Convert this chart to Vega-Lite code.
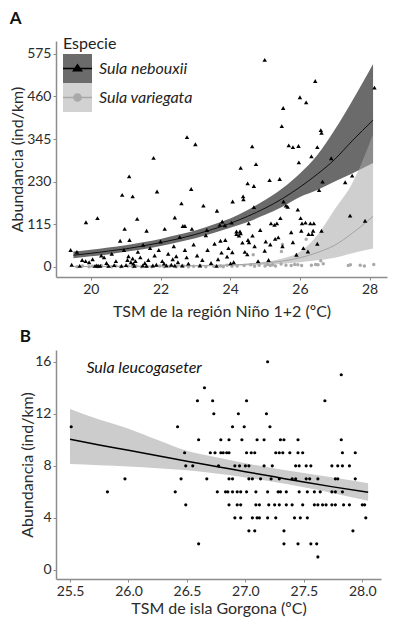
{
  "$schema": "https://vega.github.io/schema/vega-lite/v6.json",
  "background": "white",
  "padding": {"left": 9, "top": 10, "right": 4, "bottom": 2},
  "spacing": 9,
  "columns": 1,
  "align": "none",
  "resolve": {"scale": {"fill": "independent", "color": "independent", "shape": "independent", "stroke": "independent"}, "legend": {"fill": "independent", "color": "independent", "shape": "independent", "stroke": "independent"}},
  "config": {
    "font": "Lato",
    "view": {"stroke": null},
    "axis": {"grid": false, "domainColor": "#8c8c8c", "domainWidth": 1.5, "tickColor": "#8c8c8c", "tickSize": 3, "labelFontSize": 14, "labelColor": "#2b2b2b", "labelPadding": 2, "titleFontSize": 16, "titleFontWeight": "normal", "titleColor": "#2b2b2b"},
    "title": {"fontSize": 17, "fontWeight": "bold", "anchor": "start", "frame": "bounds", "color": "#111111"},
    "legend": {"titleFontSize": 16, "titleFontWeight": "normal", "titleColor": "#222222", "titlePadding": 2, "labelFontSize": 16, "labelFontStyle": "italic", "labelColor": "#222222", "labelOffset": 7, "symbolSize": 841, "symbolStrokeWidth": 0, "rowPadding": 0, "padding": 0, "symbolOpacity": 1}
  },
  "datasets": {
    "fitA": [
      {"sp": "Sula nebouxii", "t": 19.5, "v": 31, "lo": 23, "hi": 41},
      {"sp": "Sula nebouxii", "t": 20.0, "v": 36, "lo": 28, "hi": 46},
      {"sp": "Sula nebouxii", "t": 20.5, "v": 42, "lo": 33, "hi": 52},
      {"sp": "Sula nebouxii", "t": 21.0, "v": 48, "lo": 40, "hi": 58},
      {"sp": "Sula nebouxii", "t": 21.5, "v": 56, "lo": 47, "hi": 66},
      {"sp": "Sula nebouxii", "t": 22.0, "v": 65, "lo": 56, "hi": 75},
      {"sp": "Sula nebouxii", "t": 22.5, "v": 75, "lo": 66, "hi": 86},
      {"sp": "Sula nebouxii", "t": 23.0, "v": 87, "lo": 77, "hi": 98},
      {"sp": "Sula nebouxii", "t": 23.5, "v": 101, "lo": 90, "hi": 113},
      {"sp": "Sula nebouxii", "t": 24.0, "v": 117, "lo": 105, "hi": 130},
      {"sp": "Sula nebouxii", "t": 24.5, "v": 136, "lo": 121, "hi": 153},
      {"sp": "Sula nebouxii", "t": 25.0, "v": 158, "lo": 140, "hi": 180},
      {"sp": "Sula nebouxii", "t": 25.5, "v": 184, "lo": 162, "hi": 212},
      {"sp": "Sula nebouxii", "t": 26.0, "v": 215, "lo": 188, "hi": 252},
      {"sp": "Sula nebouxii", "t": 26.5, "v": 250, "lo": 207, "hi": 302},
      {"sp": "Sula nebouxii", "t": 27.0, "v": 290, "lo": 230, "hi": 370},
      {"sp": "Sula nebouxii", "t": 27.5, "v": 340, "lo": 252, "hi": 448},
      {"sp": "Sula nebouxii", "t": 28.1, "v": 396, "lo": 280, "hi": 548},
      {"sp": "Sula variegata", "t": 19.5, "v": 0.3, "lo": 0.05, "hi": 1.5},
      {"sp": "Sula variegata", "t": 20.0, "v": 0.4, "lo": 0.1, "hi": 1.8},
      {"sp": "Sula variegata", "t": 21.0, "v": 0.7, "lo": 0.2, "hi": 2.3},
      {"sp": "Sula variegata", "t": 22.0, "v": 1.3, "lo": 0.4, "hi": 3},
      {"sp": "Sula variegata", "t": 23.0, "v": 2.3, "lo": 0.9, "hi": 4.2},
      {"sp": "Sula variegata", "t": 24.0, "v": 4.3, "lo": 2, "hi": 5.5},
      {"sp": "Sula variegata", "t": 24.5, "v": 6.5, "lo": 3, "hi": 8.5},
      {"sp": "Sula variegata", "t": 25.0, "v": 10, "lo": 5, "hi": 13},
      {"sp": "Sula variegata", "t": 25.5, "v": 15, "lo": 8, "hi": 22},
      {"sp": "Sula variegata", "t": 26.0, "v": 24, "lo": 12, "hi": 40},
      {"sp": "Sula variegata", "t": 26.5, "v": 38, "lo": 17, "hi": 85},
      {"sp": "Sula variegata", "t": 27.0, "v": 58, "lo": 24, "hi": 155},
      {"sp": "Sula variegata", "t": 27.5, "v": 90, "lo": 36, "hi": 225},
      {"sp": "Sula variegata", "t": 28.1, "v": 136, "lo": 49, "hi": 358}
    ],
    "neb": [
      {"t": 24.99, "v": 559}, {"t": 26.44, "v": 502}, {"t": 26.0, "v": 458}, {"t": 26.18, "v": 444}, {"t": 25.52, "v": 429}, {"t": 28.14, "v": 484},
      {"t": 25.48, "v": 380}, {"t": 26.6, "v": 369}, {"t": 26.62, "v": 362}, {"t": 22.76, "v": 350}, {"t": 23.0, "v": 331}, {"t": 24.63, "v": 325},
      {"t": 25.68, "v": 328}, {"t": 25.8, "v": 323}, {"t": 25.96, "v": 326}, {"t": 26.5, "v": 323}, {"t": 21.8, "v": 294}, {"t": 26.9, "v": 293},
      {"t": 26.33, "v": 298}, {"t": 25.97, "v": 282}, {"t": 24.3, "v": 267}, {"t": 24.74, "v": 277}, {"t": 21.1, "v": 244}, {"t": 27.5, "v": 246},
      {"t": 27.3, "v": 228}, {"t": 24.5, "v": 225}, {"t": 24.68, "v": 218}, {"t": 25.13, "v": 234}, {"t": 25.42, "v": 237}, {"t": 26.55, "v": 207},
      {"t": 26.65, "v": 230}, {"t": 20.9, "v": 194}, {"t": 21.2, "v": 190}, {"t": 21.9, "v": 203}, {"t": 22.88, "v": 210}, {"t": 22.6, "v": 171},
      {"t": 23.23, "v": 165}, {"t": 24.07, "v": 176}, {"t": 24.37, "v": 190}, {"t": 24.38, "v": 182}, {"t": 25.53, "v": 176},
      {"t": 23.62, "v": 151}, {"t": 25.6, "v": 165}, {"t": 25.65, "v": 162}, {"t": 24.68, "v": 161}, {"t": 25.94, "v": 154}, {"t": 27.44, "v": 138},
      {"t": 27.87, "v": 124}, {"t": 19.86, "v": 120}, {"t": 20.19, "v": 131}, {"t": 21.33, "v": 129}, {"t": 22.41, "v": 133}, {"t": 22.64, "v": 110},
      {"t": 22.7, "v": 110}, {"t": 22.9, "v": 102}, {"t": 22.12, "v": 102}, {"t": 21.6, "v": 97}, {"t": 20.97, "v": 102}, {"t": 23.77, "v": 122},
      {"t": 23.85, "v": 112}, {"t": 24.04, "v": 119}, {"t": 24.18, "v": 95}, {"t": 24.28, "v": 95}, {"t": 24.53, "v": 117}, {"t": 25.17, "v": 117},
      {"t": 25.27, "v": 113}, {"t": 25.34, "v": 117}, {"t": 25.44, "v": 131}, {"t": 25.75, "v": 93}, {"t": 26.06, "v": 117}, {"t": 26.16, "v": 119},
      {"t": 26.04, "v": 97}, {"t": 26.38, "v": 97}, {"t": 26.62, "v": 97}, {"t": 26.3, "v": 117}, {"t": 26.4, "v": 117}, {"t": 23.33, "v": 99},
      {"t": 23.7, "v": 113}, {"t": 24.86, "v": 99}, {"t": 26.02, "v": 131},
      {"t": 19.42, "v": 45}, {"t": 19.45, "v": 5}, {"t": 19.6, "v": 40}, {"t": 19.68, "v": 2}, {"t": 19.75, "v": 18}, {"t": 19.85, "v": 15},
      {"t": 19.95, "v": 12}, {"t": 20.05, "v": 20}, {"t": 20.12, "v": 2}, {"t": 20.17, "v": 3}, {"t": 20.22, "v": 2}, {"t": 20.27, "v": 2},
      {"t": 20.3, "v": 30}, {"t": 20.38, "v": 25}, {"t": 20.45, "v": 10}, {"t": 20.51, "v": 2}, {"t": 20.6, "v": 35}, {"t": 20.67, "v": 4},
      {"t": 20.72, "v": 15}, {"t": 20.84, "v": 70}, {"t": 20.88, "v": 2}, {"t": 20.95, "v": 45}, {"t": 21.01, "v": 4}, {"t": 21.05, "v": 18},
      {"t": 21.08, "v": 28}, {"t": 21.11, "v": 72}, {"t": 21.15, "v": 12}, {"t": 21.2, "v": 22}, {"t": 21.22, "v": 8}, {"t": 21.25, "v": 2},
      {"t": 21.28, "v": 15}, {"t": 21.35, "v": 40}, {"t": 21.42, "v": 25}, {"t": 21.49, "v": 3}, {"t": 21.5, "v": 59}, {"t": 21.55, "v": 10},
      {"t": 21.6, "v": 2}, {"t": 21.65, "v": 18}, {"t": 21.7, "v": 50}, {"t": 21.78, "v": 3}, {"t": 21.83, "v": 30}, {"t": 21.88, "v": 5},
      {"t": 21.95, "v": 45}, {"t": 22.0, "v": 68}, {"t": 22.05, "v": 15}, {"t": 22.1, "v": 8}, {"t": 22.17, "v": 3}, {"t": 22.22, "v": 35},
      {"t": 22.31, "v": 5}, {"t": 22.35, "v": 20}, {"t": 22.38, "v": 55}, {"t": 22.41, "v": 3}, {"t": 22.45, "v": 28}, {"t": 22.5, "v": 12},
      {"t": 22.55, "v": 80}, {"t": 22.62, "v": 3}, {"t": 22.7, "v": 45}, {"t": 22.75, "v": 25}, {"t": 22.8, "v": 8}, {"t": 22.95, "v": 60},
      {"t": 23.05, "v": 30}, {"t": 23.13, "v": 3}, {"t": 23.2, "v": 18}, {"t": 23.3, "v": 85}, {"t": 23.35, "v": 45}, {"t": 23.45, "v": 10},
      {"t": 23.55, "v": 62}, {"t": 23.61, "v": 2}, {"t": 23.65, "v": 20}, {"t": 23.72, "v": 70}, {"t": 23.75, "v": 38}, {"t": 23.86, "v": 72},
      {"t": 23.91, "v": 27}, {"t": 23.95, "v": 50}, {"t": 24.01, "v": 9}, {"t": 24.06, "v": 39}, {"t": 24.1, "v": 12}, {"t": 24.18, "v": 88},
      {"t": 24.25, "v": 84}, {"t": 24.3, "v": 90}, {"t": 24.35, "v": 65}, {"t": 24.42, "v": 40}, {"t": 24.49, "v": 33}, {"t": 24.51, "v": 72},
      {"t": 24.54, "v": 66}, {"t": 24.64, "v": 84}, {"t": 24.7, "v": 55}, {"t": 24.8, "v": 15}, {"t": 24.99, "v": 43}, {"t": 25.02, "v": 68},
      {"t": 25.1, "v": 18}, {"t": 25.15, "v": 60}, {"t": 25.29, "v": 75}, {"t": 25.38, "v": 79}, {"t": 25.5, "v": 55}, {"t": 25.8, "v": 66},
      {"t": 25.9, "v": 32}, {"t": 26.1, "v": 50}, {"t": 26.23, "v": 41}, {"t": 26.35, "v": 88}, {"t": 26.5, "v": 62}, {"t": 26.25, "v": 88}
    ],
    "var": [
      {"t": 19.6, "v": 0}, {"t": 19.76, "v": 2}, {"t": 19.95, "v": 0}, {"t": 20.05, "v": 1}, {"t": 20.19, "v": 0}, {"t": 20.3, "v": 3},
      {"t": 20.48, "v": 1}, {"t": 20.6, "v": 0}, {"t": 20.72, "v": 2}, {"t": 20.85, "v": 0}, {"t": 21.06, "v": 1}, {"t": 21.2, "v": 0},
      {"t": 21.3, "v": 2}, {"t": 21.45, "v": 0}, {"t": 21.59, "v": 1}, {"t": 21.75, "v": 0}, {"t": 21.98, "v": 2}, {"t": 22.1, "v": 0},
      {"t": 22.27, "v": 1}, {"t": 22.45, "v": 0}, {"t": 22.66, "v": 2}, {"t": 22.8, "v": 0}, {"t": 22.95, "v": 1}, {"t": 23.14, "v": 3},
      {"t": 23.3, "v": 0}, {"t": 23.53, "v": 1}, {"t": 23.72, "v": 2}, {"t": 23.8, "v": 0}, {"t": 23.91, "v": 4}, {"t": 24.05, "v": 1},
      {"t": 24.2, "v": 2}, {"t": 24.4, "v": 3}, {"t": 24.59, "v": 5}, {"t": 24.66, "v": 32}, {"t": 24.7, "v": 1}, {"t": 24.83, "v": 4},
      {"t": 25.0, "v": 2}, {"t": 25.07, "v": 6}, {"t": 25.15, "v": 3}, {"t": 25.22, "v": 5}, {"t": 25.3, "v": 2}, {"t": 25.46, "v": 7},
      {"t": 25.47, "v": 41}, {"t": 25.5, "v": 60}, {"t": 25.6, "v": 4}, {"t": 25.75, "v": 3}, {"t": 25.85, "v": 6}, {"t": 25.94, "v": 5},
      {"t": 26.05, "v": 3}, {"t": 26.18, "v": 74}, {"t": 26.33, "v": 4}, {"t": 26.45, "v": 6}, {"t": 26.52, "v": 5}, {"t": 26.6, "v": 16},
      {"t": 26.67, "v": 8}, {"t": 27.39, "v": 3}, {"t": 27.45, "v": 5}, {"t": 27.73, "v": 4}, {"t": 27.85, "v": 2}, {"t": 28.12, "v": 6}
    ],
    "fitB": [
      {"t": 25.5, "v": 10.04, "lo": 8.14, "hi": 12.37},
      {"t": 25.75, "v": 9.6, "lo": 8.05, "hi": 11.55},
      {"t": 26.0, "v": 9.2, "lo": 7.95, "hi": 10.85},
      {"t": 26.25, "v": 8.78, "lo": 7.82, "hi": 9.98},
      {"t": 26.5, "v": 8.35, "lo": 7.65, "hi": 9.15},
      {"t": 26.75, "v": 7.95, "lo": 7.4, "hi": 8.65},
      {"t": 27.0, "v": 7.55, "lo": 7.1, "hi": 8.2},
      {"t": 27.25, "v": 7.15, "lo": 6.75, "hi": 7.8},
      {"t": 27.5, "v": 6.75, "lo": 6.35, "hi": 7.45},
      {"t": 27.75, "v": 6.38, "lo": 5.9, "hi": 7.1},
      {"t": 28.05, "v": 5.97, "lo": 5.32, "hi": 6.66}
    ],
    "ptsB": [
      {"t": 27.19, "v": 16}, {"t": 27.82, "v": 15}, {"t": 26.65, "v": 14},
      {"t": 26.59, "v": 13}, {"t": 26.72, "v": 13}, {"t": 27.01, "v": 13}, {"t": 27.68, "v": 13},
      {"t": 26.73, "v": 12}, {"t": 26.94, "v": 12}, {"t": 27.18, "v": 12},
      {"t": 25.51, "v": 11}, {"t": 26.42, "v": 11}, {"t": 26.89, "v": 11}, {"t": 26.99, "v": 11}, {"t": 27.21, "v": 11},
      {"t": 26.6, "v": 10}, {"t": 26.79, "v": 10}, {"t": 26.86, "v": 10}, {"t": 26.97, "v": 10}, {"t": 27.1, "v": 10}, {"t": 27.16, "v": 10},
      {"t": 27.3, "v": 10}, {"t": 27.33, "v": 10}, {"t": 27.45, "v": 10}, {"t": 27.82, "v": 10},
      {"t": 26.48, "v": 9}, {"t": 26.7, "v": 9}, {"t": 26.74, "v": 9}, {"t": 26.79, "v": 9}, {"t": 26.81, "v": 9}, {"t": 26.84, "v": 9},
      {"t": 26.86, "v": 9}, {"t": 27.01, "v": 9}, {"t": 27.05, "v": 9}, {"t": 27.08, "v": 9}, {"t": 27.26, "v": 9}, {"t": 27.29, "v": 9},
      {"t": 27.32, "v": 9}, {"t": 27.38, "v": 9}, {"t": 27.45, "v": 9}, {"t": 27.49, "v": 9}, {"t": 27.83, "v": 9}, {"t": 27.94, "v": 9},
      {"t": 26.49, "v": 8}, {"t": 26.55, "v": 8}, {"t": 26.77, "v": 8}, {"t": 26.91, "v": 8}, {"t": 26.95, "v": 8}, {"t": 27.0, "v": 8},
      {"t": 27.03, "v": 8}, {"t": 27.16, "v": 8}, {"t": 27.23, "v": 8}, {"t": 27.43, "v": 8}, {"t": 27.46, "v": 8}, {"t": 27.52, "v": 8},
      {"t": 27.56, "v": 8}, {"t": 27.74, "v": 8}, {"t": 27.79, "v": 8}, {"t": 27.83, "v": 8}, {"t": 27.89, "v": 8},
      {"t": 25.97, "v": 7}, {"t": 26.45, "v": 7}, {"t": 26.67, "v": 7}, {"t": 26.86, "v": 7}, {"t": 26.89, "v": 7}, {"t": 27.03, "v": 7},
      {"t": 27.06, "v": 7}, {"t": 27.13, "v": 7}, {"t": 27.22, "v": 7}, {"t": 27.29, "v": 7}, {"t": 27.4, "v": 7}, {"t": 27.43, "v": 7},
      {"t": 27.52, "v": 7}, {"t": 27.55, "v": 7}, {"t": 27.62, "v": 7}, {"t": 27.77, "v": 7}, {"t": 27.79, "v": 7}, {"t": 27.94, "v": 7},
      {"t": 25.82, "v": 6}, {"t": 26.4, "v": 6}, {"t": 26.76, "v": 6}, {"t": 26.83, "v": 6}, {"t": 26.85, "v": 6}, {"t": 26.89, "v": 6},
      {"t": 26.93, "v": 6}, {"t": 26.96, "v": 6}, {"t": 27.01, "v": 6}, {"t": 27.09, "v": 6}, {"t": 27.19, "v": 6}, {"t": 27.28, "v": 6},
      {"t": 27.3, "v": 6}, {"t": 27.35, "v": 6}, {"t": 27.46, "v": 6}, {"t": 27.53, "v": 6}, {"t": 27.59, "v": 6}, {"t": 27.64, "v": 6},
      {"t": 27.74, "v": 6}, {"t": 27.77, "v": 6}, {"t": 27.83, "v": 6},
      {"t": 26.49, "v": 5}, {"t": 26.86, "v": 5}, {"t": 26.93, "v": 5}, {"t": 26.96, "v": 5}, {"t": 27.09, "v": 5}, {"t": 27.12, "v": 5},
      {"t": 27.2, "v": 5}, {"t": 27.25, "v": 5}, {"t": 27.29, "v": 5}, {"t": 27.35, "v": 5}, {"t": 27.4, "v": 5}, {"t": 27.49, "v": 5},
      {"t": 27.59, "v": 5}, {"t": 27.62, "v": 5}, {"t": 27.66, "v": 5}, {"t": 27.69, "v": 5}, {"t": 27.74, "v": 5}, {"t": 27.77, "v": 5},
      {"t": 27.84, "v": 5}, {"t": 27.89, "v": 5}, {"t": 28.0, "v": 5}, {"t": 28.02, "v": 5},
      {"t": 26.91, "v": 4}, {"t": 26.96, "v": 4}, {"t": 27.06, "v": 4}, {"t": 27.1, "v": 4}, {"t": 27.12, "v": 4}, {"t": 27.19, "v": 4},
      {"t": 27.26, "v": 4}, {"t": 27.42, "v": 4}, {"t": 27.47, "v": 4}, {"t": 27.53, "v": 4}, {"t": 28.03, "v": 4},
      {"t": 27.03, "v": 3}, {"t": 27.08, "v": 3}, {"t": 27.33, "v": 3}, {"t": 27.92, "v": 3},
      {"t": 26.6, "v": 2}, {"t": 27.33, "v": 2}, {"t": 27.45, "v": 2}, {"t": 27.56, "v": 2}, {"t": 27.61, "v": 2},
      {"t": 27.62, "v": 1}
    ]
  },
  "concat": [
    {
      "title": {"text": "A", "offset": 8},
      "width": 331,
      "height": 236,
      "resolve": {"scale": {"fill": "independent", "color": "independent", "shape": "independent", "stroke": "independent"}},
      "layer": [
        {
          "data": {"name": "fitA"},
          "transform": [{"filter": "datum.sp == 'Sula nebouxii'"}],
          "mark": {"type": "area", "color": "#6b6b6b", "interpolate": "monotone"},
          "encoding": {
            "x": {"field": "t", "type": "quantitative", "scale": {"domain": [19, 28.5], "nice": false, "zero": false}, "axis": {"values": [20, 22, 24, 26, 28], "title": "TSM de la región Niño 1+2 (ºC)", "titlePadding": 7}},
            "y": {"field": "lo", "type": "quantitative", "scale": {"domain": [-28, 610], "nice": false, "zero": false}, "axis": {"values": [0, 115, 230, 345, 460, 575], "title": "Abundancia (ind/km)", "titlePadding": 1}},
            "y2": {"field": "hi"}
          }
        },
        {
          "data": {"name": "fitA"},
          "transform": [{"filter": "datum.sp == 'Sula variegata'"}],
          "mark": {"type": "area", "color": "#a7a7a7", "opacity": 0.55, "interpolate": "monotone"},
          "encoding": {
            "x": {"field": "t", "type": "quantitative", "scale": {"domain": [19, 28.5], "nice": false, "zero": false}, "axis": {"values": [20, 22, 24, 26, 28], "title": "TSM de la región Niño 1+2 (ºC)", "titlePadding": 7}},
            "y": {"field": "lo", "type": "quantitative", "scale": {"domain": [-28, 610], "nice": false, "zero": false}, "axis": {"values": [0, 115, 230, 345, 460, 575], "title": "Abundancia (ind/km)", "titlePadding": 1}},
            "y2": {"field": "hi"}
          }
        },
        {
          "data": {"name": "fitA"},
          "mark": {"type": "line", "strokeWidth": 1, "interpolate": "monotone"},
          "encoding": {
            "x": {"field": "t", "type": "quantitative", "scale": {"domain": [19, 28.5], "nice": false, "zero": false}, "axis": {"values": [20, 22, 24, 26, 28], "title": "TSM de la región Niño 1+2 (ºC)", "titlePadding": 7}},
            "y": {"field": "v", "type": "quantitative", "scale": {"domain": [-28, 610], "nice": false, "zero": false}, "axis": {"values": [0, 115, 230, 345, 460, 575], "title": "Abundancia (ind/km)", "titlePadding": 1}},
            "stroke": {"field": "sp", "type": "nominal", "scale": {"domain": ["Sula nebouxii", "Sula variegata"], "range": ["#111111", "#a3a3a3"]}, "legend": null}
          }
        },
        {
          "data": {"name": "var"},
          "mark": {"type": "point", "shape": "circle", "filled": true, "color": "#a9a9a9", "size": 12, "opacity": 1},
          "encoding": {
            "x": {"field": "t", "type": "quantitative", "scale": {"domain": [19, 28.5], "nice": false, "zero": false}, "axis": {"values": [20, 22, 24, 26, 28], "title": "TSM de la región Niño 1+2 (ºC)", "titlePadding": 7}},
            "y": {"field": "v", "type": "quantitative", "scale": {"domain": [-28, 610], "nice": false, "zero": false}, "axis": {"values": [0, 115, 230, 345, 460, 575], "title": "Abundancia (ind/km)", "titlePadding": 1}}
          }
        },
        {
          "data": {"name": "neb"},
          "mark": {"type": "point", "shape": "triangle-up", "filled": true, "color": "#000000", "size": 20, "opacity": 1},
          "encoding": {
            "x": {"field": "t", "type": "quantitative", "scale": {"domain": [19, 28.5], "nice": false, "zero": false}, "axis": {"values": [20, 22, 24, 26, 28], "title": "TSM de la región Niño 1+2 (ºC)", "titlePadding": 7}},
            "y": {"field": "v", "type": "quantitative", "scale": {"domain": [-28, 610], "nice": false, "zero": false}, "axis": {"values": [0, 115, 230, 345, 460, 575], "title": "Abundancia (ind/km)", "titlePadding": 1}}
          }
        },
        {
          "data": {"values": [{"sp": "Sula nebouxii"}, {"sp": "Sula variegata"}]},
          "mark": {"type": "point", "filled": true, "size": 0, "strokeWidth": 0},
          "encoding": {
            "fill": {"field": "sp", "type": "nominal", "scale": {"domain": ["Sula nebouxii", "Sula variegata"], "range": ["#6b6b6b", "#d2d2d2"]}, "legend": {"title": "Especie", "symbolType": "square", "orient": "none", "legendX": 7, "legendY": -5}}
          }
        },
        {
          "data": {"values": [{"sp": "Sula nebouxii"}, {"sp": "Sula variegata"}]},
          "mark": {"type": "point", "filled": true, "size": 0, "strokeWidth": 0},
          "encoding": {
            "color": {"field": "sp", "type": "nominal", "scale": {"domain": ["Sula nebouxii", "Sula variegata"], "range": ["#000000", "#a9a9a9"]}, "legend": {"title": "Especie", "titleOpacity": 0, "labelOpacity": 0, "orient": "none", "legendX": 7, "legendY": -5}},
            "shape": {"field": "sp", "type": "nominal", "scale": {"domain": ["Sula nebouxii", "Sula variegata"], "range": ["M-1,-0.05H1V0.05H-1Z M0,-0.34L0.38,0.2L-0.38,0.2Z M-1,-1 M1,1", "M-1,-0.05H1V0.05H-1Z M-0.3,0A0.3,0.3 0 1,1 0.3,0A0.3,0.3 0 1,1 -0.3,0Z M-1,-1 M1,1"]}, "legend": {"title": "Especie", "titleOpacity": 0, "labelOpacity": 0, "orient": "none", "legendX": 7, "legendY": -5}}
          }
        }
      ]
    },
    {
      "title": {"text": "B", "offset": 4},
      "width": 325,
      "height": 229,
      "layer": [
        {
          "data": {"name": "fitB"},
          "mark": {"type": "area", "color": "#cccccc", "interpolate": "monotone"},
          "encoding": {
            "x": {"field": "t", "type": "quantitative", "scale": {"domain": [25.38, 28.16], "nice": false, "zero": false}, "axis": {"values": [25.5, 26, 26.5, 27, 27.5, 28], "format": ".1f", "title": "TSM de isla Gorgona (ºC)", "titlePadding": 2}},
            "y": {"field": "lo", "type": "quantitative", "scale": {"domain": [-0.7, 16.9], "nice": false, "zero": false}, "axis": {"values": [0, 4, 8, 12, 16], "title": "Abundancia (ind/km)", "titlePadding": -1}},
            "y2": {"field": "hi"}
          }
        },
        {
          "data": {"name": "fitB"},
          "mark": {"type": "line", "color": "#000000", "strokeWidth": 1.5, "interpolate": "monotone"},
          "encoding": {
            "x": {"field": "t", "type": "quantitative", "scale": {"domain": [25.38, 28.16], "nice": false, "zero": false}, "axis": {"values": [25.5, 26, 26.5, 27, 27.5, 28], "format": ".1f", "title": "TSM de isla Gorgona (ºC)", "titlePadding": 2}},
            "y": {"field": "v", "type": "quantitative", "scale": {"domain": [-0.7, 16.9], "nice": false, "zero": false}, "axis": {"values": [0, 4, 8, 12, 16], "title": "Abundancia (ind/km)", "titlePadding": -1}}
          }
        },
        {
          "data": {"name": "ptsB"},
          "mark": {"type": "point", "shape": "circle", "filled": true, "color": "#000000", "size": 10, "opacity": 1},
          "encoding": {
            "x": {"field": "t", "type": "quantitative", "scale": {"domain": [25.38, 28.16], "nice": false, "zero": false}, "axis": {"values": [25.5, 26, 26.5, 27, 27.5, 28], "format": ".1f", "title": "TSM de isla Gorgona (ºC)", "titlePadding": 2}},
            "y": {"field": "v", "type": "quantitative", "scale": {"domain": [-0.7, 16.9], "nice": false, "zero": false}, "axis": {"values": [0, 4, 8, 12, 16], "title": "Abundancia (ind/km)", "titlePadding": -1}}
          }
        },
        {
          "data": {"values": [{"label": "Sula leucogaseter", "t": 25.64, "v": 15.55}]},
          "mark": {"type": "text", "fontStyle": "italic", "fontSize": 16, "align": "left", "baseline": "middle", "color": "#111111"},
          "encoding": {
            "text": {"field": "label"},
            "x": {"field": "t", "type": "quantitative", "scale": {"domain": [25.38, 28.16], "nice": false, "zero": false}, "axis": {"values": [25.5, 26, 26.5, 27, 27.5, 28], "format": ".1f", "title": "TSM de isla Gorgona (ºC)", "titlePadding": 2}},
            "y": {"field": "v", "type": "quantitative", "scale": {"domain": [-0.7, 16.9], "nice": false, "zero": false}, "axis": {"values": [0, 4, 8, 12, 16], "title": "Abundancia (ind/km)", "titlePadding": -1}}
          }
        }
      ]
    }
  ]
}
